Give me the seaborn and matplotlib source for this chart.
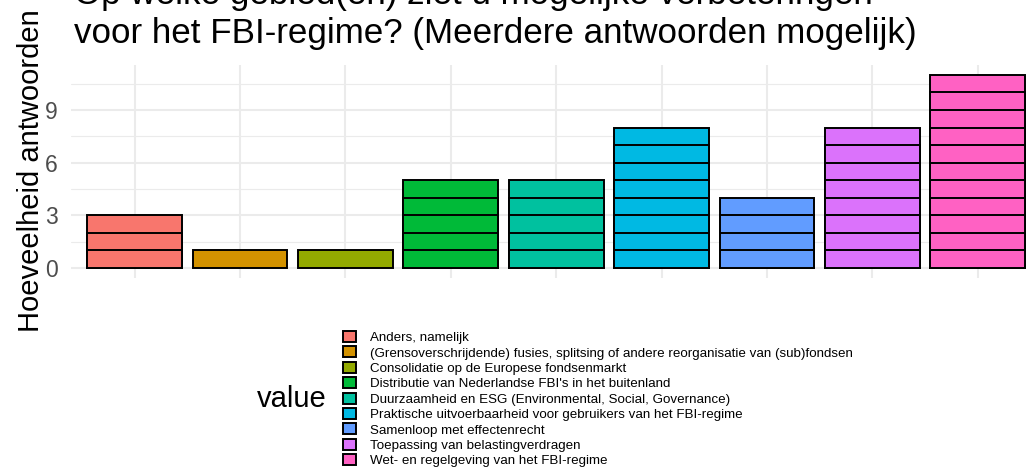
import numpy as np
import pandas as pd
import matplotlib
matplotlib.use("Agg")
import matplotlib.pyplot as plt
from matplotlib.patches import Patch
import seaborn as sns

categories = [
    "Anders, namelijk",
    "(Grensoverschrijdende) fusies, splitsing of andere reorganisatie van (sub)fondsen",
    "Consolidatie op de Europese fondsenmarkt",
    "Distributie van Nederlandse FBI's in het buitenland",
    "Duurzaamheid en ESG (Environmental, Social, Governance)",
    "Praktische uitvoerbaarheid voor gebruikers van het FBI-regime",
    "Samenloop met effectenrecht",
    "Toepassing van belastingverdragen",
    "Wet- en regelgeving van het FBI-regime",
]
counts = [3, 1, 1, 5, 5, 8, 4, 8, 11]
colors = ["#F8766D", "#D39200", "#93AA00", "#00BA38", "#00C19F",
          "#00B9E3", "#619CFF", "#DB72FB", "#FF61C3"]
yticks_major = [0, 3, 6, 9]
yticks_minor = [1.5, 4.5, 7.5, 10.5]
title_lines = ["Op welke gebied(en) ziet u mogelijke verbeteringen",
               "voor het FBI-regime? (Meerdere antwoorden mogelijk)"]
ylabel = "Hoeveelheid antwoorden"
legend_title = "value"

sns.set_style("whitegrid")
plt.rcParams["font.family"] = ["Liberation Sans", "DejaVu Sans"]
plt.rcParams["text.color"] = "black"

W, H = 1026, 467
fig = plt.figure(figsize=(W / 100, H / 100), dpi=100)
ax = fig.add_axes([71.3 / W, (H - 277.7) / H, (1041 - 71.3) / W, (277.7 - 65.2) / H])

palette = dict(zip(categories, colors))
df = pd.DataFrame({"value": categories, "n": counts})

# each answer is drawn as its own unit block: overlay bars from tallest level down
for k in range(max(counts), 0, -1):
    sub = df[df["n"] >= k].copy()
    sub["h"] = k
    sns.barplot(data=sub, x="value", y="h", hue="value", order=categories,
                hue_order=categories, palette=palette, dodge=False, width=0.9,
                saturation=1, edgecolor="black", linewidth=1.4, legend=False,
                ax=ax, zorder=3)

ax.set_xlim(-0.6, len(categories) - 0.4)
ax.set_ylim(-0.55, max(counts) * 1.05)
ax.set_xticks(range(len(categories)))
ax.set_xticklabels([])
ax.set_yticks(yticks_major)
ax.set_yticks(yticks_minor, minor=True)
ax.set_yticklabels([str(v) for v in yticks_major])
ax.tick_params(axis="both", which="both", length=0)
ax.tick_params(axis="y", labelsize=16.5, labelcolor="#4D4D4D", pad=10)
ax.grid(True, which="major", color="#EBEBEB", linewidth=1.5, zorder=0)
ax.grid(True, which="minor", axis="y", color="#EBEBEB", linewidth=0.8, zorder=0)
ax.xaxis.grid(True, which="major", color="#EBEBEB", linewidth=1.5)
ax.set_axisbelow(True)
ax.set_xlabel("")
ax.set_ylabel("")
sns.despine(ax=ax, left=True, bottom=True)

# title
fig.text(74 / W, 1 - 4 / H, title_lines[0], fontsize=25.2, ha="left", va="baseline")
fig.text(74 / W, 1 - 43 / H, title_lines[1], fontsize=25.2, ha="left", va="baseline")
# y label
fig.text(31 / W, 1 - 171 / H, ylabel, fontsize=21, rotation=90, ha="center", va="center")

# legend
handles = [Patch(facecolor=c, edgecolor="black", linewidth=1.4) for c in colors]
fig.legend(handles, categories, loc="upper left",
           bbox_to_anchor=(343 / W, 1 - 331 / H), bbox_transform=fig.transFigure,
           frameon=False, fontsize=9.6, handlelength=0.95, handleheight=0.9,
           handletextpad=1.1, labelspacing=0.17, borderpad=0, borderaxespad=0)
fig.text(257 / W, 1 - 399 / H, legend_title, fontsize=21, ha="left", va="center")

fig.savefig("out.png", dpi=100)
